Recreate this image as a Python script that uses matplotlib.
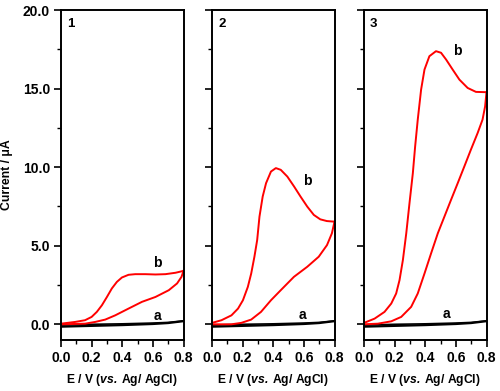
import matplotlib
matplotlib.use("Agg")
import matplotlib.pyplot as plt
from matplotlib.ticker import MultipleLocator, FormatStrFormatter

plt.rcParams["font.family"] = ["Liberation Sans", "DejaVu Sans"]
plt.rcParams["font.weight"] = "bold"
plt.rcParams["mathtext.fontset"] = "custom"
plt.rcParams["mathtext.bfit"] = "Liberation Sans:bold:italic"

# curve b, forward (upper) and reverse (lower) branches, per panel
b_fwd_x = [
    [0.0, 0.092, 0.157, 0.2, 0.234, 0.267, 0.3, 0.332, 0.365, 0.398, 0.441,
     0.485, 0.551, 0.617, 0.682, 0.748, 0.8],
    [0.0, 0.062, 0.127, 0.17, 0.202, 0.234, 0.256, 0.277, 0.295, 0.31, 0.331,
     0.353, 0.385, 0.417, 0.449, 0.492, 0.536, 0.578, 0.622, 0.665, 0.707, 0.75, 0.8],
    [0.0, 0.069, 0.134, 0.178, 0.21, 0.232, 0.254, 0.276, 0.297, 0.319, 0.334,
     0.351, 0.373, 0.395, 0.427, 0.47, 0.503, 0.536, 0.579, 0.623, 0.677, 0.731, 0.8],
]
b_fwd_y = [
    [0.04, 0.15, 0.26, 0.47, 0.79, 1.21, 1.74, 2.28, 2.7, 2.98, 3.15,
     3.19, 3.19, 3.17, 3.19, 3.28, 3.4],
    [0.09, 0.26, 0.57, 1.0, 1.53, 2.38, 3.23, 4.3, 5.36, 6.85, 8.13,
     8.98, 9.72, 9.94, 9.83, 9.4, 8.77, 8.13, 7.49, 6.96, 6.68, 6.57, 6.53],
    [0.09, 0.36, 0.79, 1.32, 1.96, 2.81, 4.09, 5.79, 7.7, 9.62, 11.32,
     13.02, 14.94, 16.21, 17.06, 17.38, 17.28, 16.85, 16.21, 15.57, 15.04, 14.79, 14.77],
]
b_rev_x = [
    [0.8, 0.787, 0.758, 0.704, 0.617, 0.529, 0.441, 0.354, 0.289, 0.223, 0.157, 0.0],
    [0.8, 0.783, 0.751, 0.697, 0.622, 0.535, 0.449, 0.385, 0.32, 0.256, 0.191, 0.127, 0.0],
    [0.8, 0.791, 0.774, 0.742, 0.698, 0.655, 0.612, 0.568, 0.525, 0.482, 0.438,
     0.395, 0.351, 0.308, 0.243, 0.178, 0.091, 0.0],
]
b_rev_y = [
    [3.4, 3.02, 2.6, 2.17, 1.74, 1.43, 1.0, 0.57, 0.3, 0.15, 0.04, 0.0],
    [6.53, 5.79, 5.04, 4.3, 3.66, 3.02, 2.17, 1.53, 0.79, 0.3, 0.09, 0.0, 0.0],
    [14.77, 13.87, 13.02, 12.17, 11.11, 10.04, 8.98, 7.91, 6.85, 5.79, 4.51,
     3.23, 1.96, 1.11, 0.47, 0.19, 0.04, 0.0],
]

# curve a (blank), nearly flat
a_x = [0.0, 0.2, 0.4, 0.6, 0.7, 0.8]
a_fwd_y = [-0.15, -0.1, -0.05, 0.02, 0.08, 0.2]
a_rev_y = [-0.05, 0.0, 0.03, 0.08, 0.12, 0.22]

panel_names = ["1", "2", "3"]
b_label_pos = [(0.63, 3.9), (0.62, 9.1), (0.61, 17.4)]
a_label_pos = [(0.63, 0.55), (0.59, 0.6), (0.54, 0.65)]

fig = plt.figure(figsize=(5.0, 3.91), dpi=100)
lefts = [0.122, 0.424, 0.728]
for i in range(3):
    ax = fig.add_axes([lefts[i], 0.1304, 0.245, 0.844])
    ax.plot(a_x, a_fwd_y, color="black", lw=1.6)
    ax.plot(a_x, a_rev_y, color="black", lw=1.2)
    ax.plot(b_fwd_x[i], b_fwd_y[i], color="red", lw=1.4)
    ax.plot(b_rev_x[i], b_rev_y[i], color="red", lw=1.4)
    ax.set_xlim(0, 0.8)
    ax.set_ylim(-1, 20)
    ax.xaxis.set_major_locator(MultipleLocator(0.2))
    ax.xaxis.set_minor_locator(MultipleLocator(0.1))
    ax.yaxis.set_major_locator(MultipleLocator(5))
    ax.yaxis.set_minor_locator(MultipleLocator(2.5))
    ax.xaxis.set_major_formatter(FormatStrFormatter("%.1f"))
    ax.yaxis.set_major_formatter(FormatStrFormatter("%.1f"))
    ax.tick_params(which="major", direction="out", length=5, width=1.2,
                   labelsize=10, pad=3)
    ax.tick_params(which="minor", direction="out", length=3, width=1.0)
    for s in ax.spines.values():
        s.set_linewidth(1.4)
    if i > 0:
        ax.tick_params(axis="y", labelleft=False)
    else:
        ax.set_ylabel("Current / \u03bcA", fontsize=8.8, fontweight="bold", labelpad=7)
    ax.set_xlabel(r"E / V ($\mathbfit{vs.}\,$Ag/ AgCl)", fontsize=8.7,
                  fontweight="bold", labelpad=5)
    ax.text(0.05, 0.975, panel_names[i], transform=ax.transAxes, ha="left",
            va="top", fontsize=9.5, fontweight="bold")
    ax.text(*b_label_pos[i], "b", ha="center", va="center", fontsize=10, fontweight="bold")
    ax.text(*a_label_pos[i], "a", ha="center", va="center", fontsize=10, fontweight="bold")

fig.savefig("out.png", dpi=100)
